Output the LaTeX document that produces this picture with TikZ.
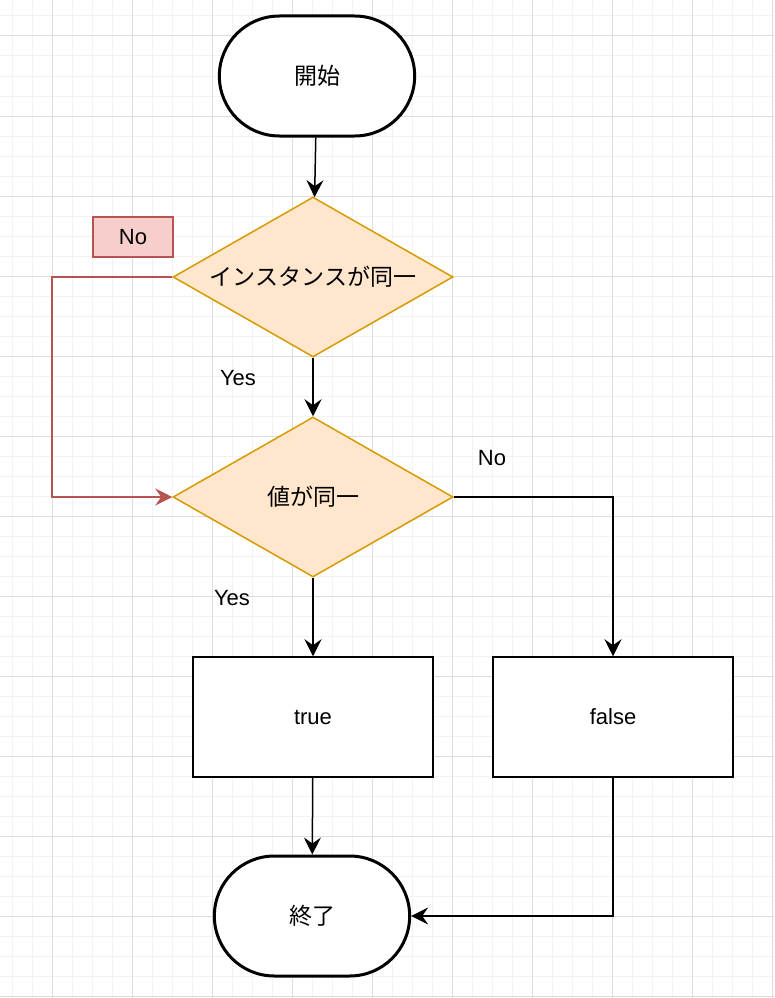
\documentclass[tikz,border=0pt]{standalone}
\usepackage{fontspec}
\setmainfont{Liberation Sans}
\newfontfamily\jpfont{Noto Sans CJK JP}
\usetikzlibrary{shapes.geometric,shapes.misc,arrows.meta}

\definecolor{decfill}{HTML}{FFE6CC}
\definecolor{decline}{HTML}{D79B00}
\definecolor{nofill}{HTML}{F8CECC}
\definecolor{noline}{HTML}{B85450}
\definecolor{gridminor}{HTML}{F3F3F3}
\definecolor{gridmajor}{HTML}{DCDCDC}

\tikzset{
    terminal/.style={rounded rectangle, draw, line width=3pt, fill=white,
        minimum width=202pt, minimum height=120pt, font=\fontsize{23}{26}\selectfont\jpfont},
    decision/.style={diamond, draw=decline, fill=decfill, line width=1.5pt, aspect=1.75,
        inner sep=0pt, minimum width=280pt, minimum height=160pt,
        font=\fontsize{23}{26}\selectfont\jpfont},
    result/.style={rectangle, draw, line width=1.5pt, fill=white,
        minimum width=240pt, minimum height=120pt, font=\fontsize{22}{26}\selectfont},
    nobox/.style={rectangle, draw=noline, fill=nofill, line width=1.5pt,
        minimum width=80pt, minimum height=40pt, font=\fontsize{22}{26}\selectfont},
    answer/.style={font=\fontsize{22}{26}\selectfont},
    flow/.style={line width=1.5pt, -{Stealth[length=17pt,width=17pt,inset=6pt]}},
}

\begin{document}
\begin{tikzpicture}[x=1pt, y=-1pt]
    \useasboundingbox (0,0) rectangle (774,998);
    \fill[white] (0,0) rectangle (774,998);
    \foreach \g in {12,32,...,772} \draw[gridminor, line width=1pt] (\g,0) -- (\g,998);
    \foreach \g in {-4,16,...,996} \draw[gridminor, line width=1pt] (0,\g) -- (774,\g);
    \foreach \g in {52,132,...,772} \draw[gridmajor, line width=1pt] (\g,0) -- (\g,998);
    \foreach \g in {36,116,...,996} \draw[gridmajor, line width=1pt] (0,\g) -- (774,\g);

    \node[terminal] (start) at (317,76) {開始};
    \node[decision] (same-inst) at (313,277) {インスタンスが同一};
    \node[decision] (same-val) at (313,497) {値が同一};
    \node[result] (res-true) at (313,717) {true};
    \node[result] (res-false) at (613,717) {false};
    \node[terminal] (finish) at (312,916) {終了};

    \node[nobox] (no-inst) at (133,237) {No};
    \node[answer] (yes-inst) at (238,378) {Yes};
    \node[answer] (no-val) at (492,458) {No};
    \node[answer] (yes-val) at (232,598) {Yes};

    \draw[flow] (start) -- (same-inst);
    \draw[flow] (same-inst) -- (same-val);
    \draw[flow] (same-val) -- (res-true);
    \draw[flow] (res-true) -- (finish);

    % Der Umweg links fuehrt direkt zum Wertevergleich.
    \coordinate (skip) at (52,277);
    \draw[flow, noline] (same-inst.west) -- (skip) |- (same-val.west);
    \draw[flow] (same-val.east) -| (res-false.north);
    \draw[flow] (res-false.south) |- (finish.east);
\end{tikzpicture}
\end{document}
